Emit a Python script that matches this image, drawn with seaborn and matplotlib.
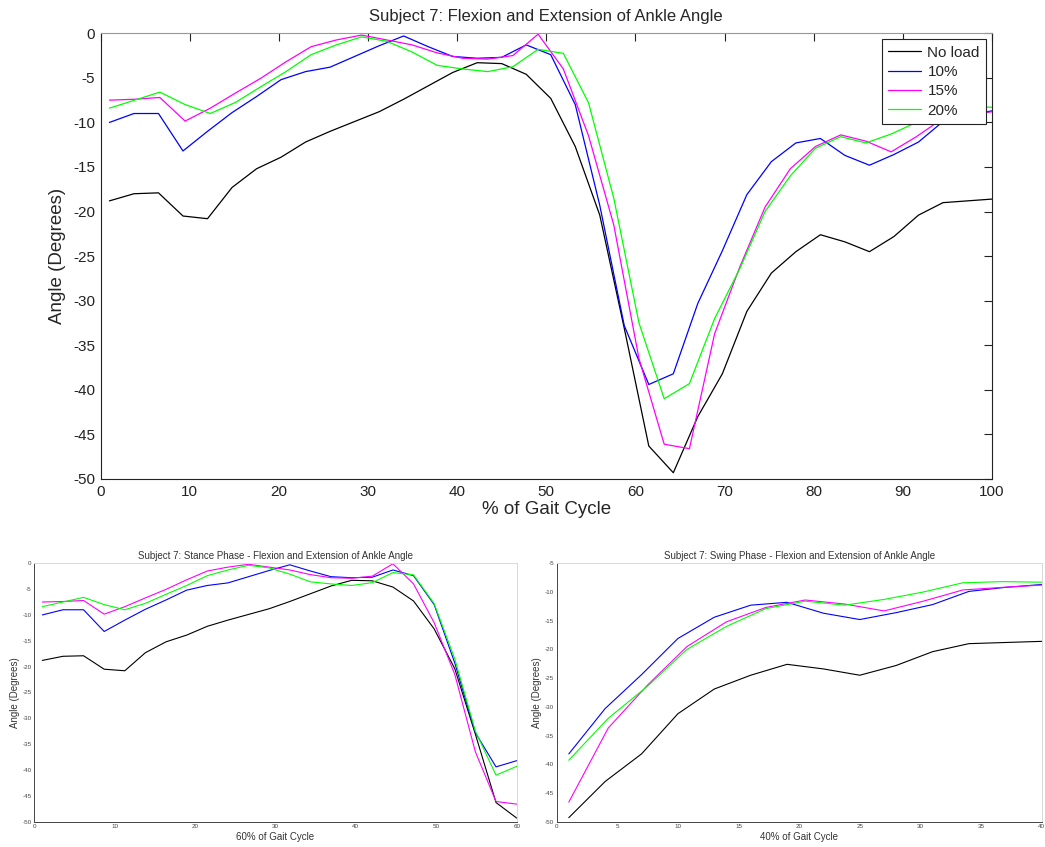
import numpy as np
import pandas as pd
import matplotlib
matplotlib.use('Agg')
import matplotlib.pyplot as plt
import seaborn as sns

# Ankle angle per frame (degrees), frames spread evenly over the cycle
no_load = [-18.8, -18.0, -17.9, -20.5, -20.8, -17.3, -15.2, -13.9, -12.2, -11.0,
           -9.9, -8.8, -7.4, -5.9, -4.4, -3.3, -3.4, -4.6, -7.3, -12.7,
           -20.4, -33.1, -46.3, -49.3, -43.0, -38.2, -31.2, -26.9, -24.5, -22.6,
           -23.4, -24.5, -22.8, -20.4, -19.0, -18.8, -18.6]
load_10 = [-10.0, -9.0, -9.0, -13.2, -11.0, -8.9, -7.1, -5.2, -4.3, -3.8,
           -2.6, -1.4, -0.3, -1.5, -2.6, -2.8, -2.7, -1.3, -2.4, -8.0,
           -19.3, -32.8, -39.4, -38.2, -30.3, -24.4, -18.1, -14.4, -12.3, -11.8,
           -13.7, -14.8, -13.6, -12.2, -9.9, -9.2, -8.7]
load_15 = [-7.5, -7.4, -7.2, -9.85, -8.4, -6.7, -5.05, -3.2, -1.5, -0.75,
           -0.2, -0.75, -1.3, -2.2, -2.8, -2.9, -2.5, -0.1, -4.0, -11.5,
           -21.5, -36.5, -46.1, -46.6, -33.7, -26.2, -19.5, -15.2, -12.7, -11.4,
           -12.1, -13.3, -11.6, -9.65, -9.2, -8.8]
load_20 = [-8.4, -7.5, -6.6, -8.0, -9.0, -7.75, -6.0, -4.3, -2.4, -1.3,
           -0.4, -0.9, -2.1, -3.6, -4.0, -4.3, -3.75, -1.8, -2.25, -7.8,
           -18.5, -32.5, -41.0, -39.3, -32.0, -26.4, -20.0, -16.0, -12.9, -11.6,
           -12.3, -11.3, -10.0, -8.4, -8.2, -8.3]

labels = ['No load', '10%', '15%', '20%']
colors = ['#000000', '#0000ff', '#ff00ff', '#00ff00']
split = 23  # last stance frame = first swing frame


def build(part):
    rows = []
    for name, ys in zip(labels, [no_load, load_10, load_15, load_20]):
        ys = np.array(ys)
        if part == 'full':
            seg, end = ys, 100
        elif part == 'stance':
            seg, end = ys[:split + 1], 60
        else:
            seg, end = ys[split:], 40
        rows.append(pd.DataFrame({'x': np.linspace(1, end, len(seg)), 'angle': seg, 'load': name}))
    return pd.concat(rows, ignore_index=True)


sns.set_style('white')
plt.rcParams['font.family'] = ['Liberation Sans', 'DejaVu Sans']
plt.rcParams['axes.unicode_minus'] = False

fig = plt.figure(figsize=(10.45, 8.47), dpi=100)

# Main chart
ax = fig.add_axes([0.0962, 0.4345, 0.8531, 0.5262])
sns.lineplot(data=build('full'), x='x', y='angle', hue='load', hue_order=labels,
             palette=colors, estimator=None, sort=False, linewidth=0.9, ax=ax)
ax.set_xlim(0, 100)
ax.set_ylim(-50, 0)
ax.set_xticks(range(0, 101, 10))
ax.set_yticks(range(-50, 1, 5))
ax.tick_params(direction='in', top=True, right=True, length=6, width=0.8,
               labelsize=11, pad=4, colors='#222222')
for s in ax.spines.values():
    s.set_color('#222222')
    s.set_linewidth(0.8)
ax.spines['top'].set_color('#999999')
ax.set_title('Subject 7: Flexion and Extension of Ankle Angle', fontsize=12, pad=9)
ax.set_xlabel('% of Gait Cycle', fontsize=13.5, labelpad=2)
ax.set_ylabel('Angle (Degrees)', fontsize=13.5, labelpad=5)

old = ax.get_legend()
handles = old.legend_handles
names = [t.get_text() for t in old.get_texts()]
old.remove()
leg = ax.legend(handles, names, loc='upper right', fontsize=11, frameon=True, fancybox=False,
                edgecolor='#222222', framealpha=1, borderpad=0.4, labelspacing=0.35,
                handlelength=2.2, handletextpad=0.4, borderaxespad=0.4)
leg.get_frame().set_linewidth(0.8)

# Bottom charts: stance and swing
small = [
    ([0.0328, 0.0299, 0.4616, 0.3051], 'stance', 60, range(0, 61, 10), (-50, 0), range(-50, 1, 5),
     'Subject 7: Stance Phase - Flexion and Extension of Ankle Angle', '60% of Gait Cycle'),
    ([0.5327, 0.0299, 0.4641, 0.3051], 'swing', 40, range(0, 41, 5), (-50, -5), range(-50, -4, 5),
     'Subject 7: Swing Phase - Flexion and Extension of Ankle Angle', '40% of Gait Cycle'),
]
for rect, part, xmax, xt, ylim, yt, title, xlabel in small:
    a = fig.add_axes(rect)
    sns.lineplot(data=build(part), x='x', y='angle', hue='load', hue_order=labels,
                 palette=colors, estimator=None, sort=False, linewidth=0.8, legend=False, ax=a)
    a.set_xlim(0, xmax)
    a.set_ylim(*ylim)
    a.set_xticks(list(xt))
    a.set_yticks(list(yt))
    a.tick_params(direction='in', length=3, width=0.6, labelsize=4.5, pad=2, colors='#444444')
    for s in a.spines.values():
        s.set_linewidth(0.7)
        s.set_color('#444444')
    a.spines['top'].set_color('#d8d8d8')
    a.spines['right'].set_color('#d8d8d8')
    a.set_title(title, fontsize=7, pad=3, color='#333333')
    a.set_xlabel(xlabel, fontsize=7, labelpad=2, color='#333333')
    a.set_ylabel('Angle (Degrees)', fontsize=7, labelpad=2, color='#333333')

fig.savefig('out.png', dpi=100)
